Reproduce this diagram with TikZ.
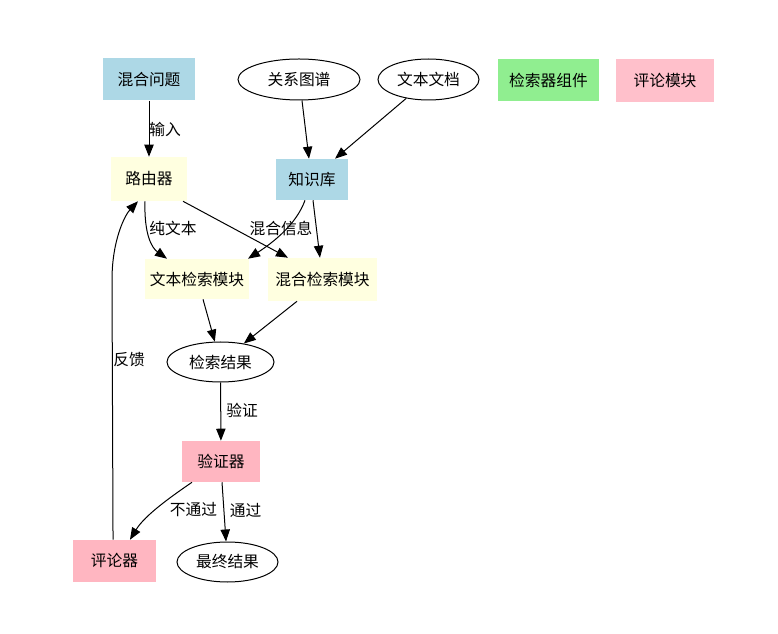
\documentclass[tikz,border=0pt]{standalone}
\usepackage{fontspec}
\newfontfamily\cjk{Noto Sans CJK SC}
\usetikzlibrary{arrows.meta,shapes.geometric}
\definecolor{lblue}{RGB}{173,216,230}
\definecolor{lyellow}{RGB}{255,255,224}
\definecolor{lgreen}{RGB}{144,238,144}
\definecolor{lpink}{RGB}{255,182,193}
\definecolor{pinkc}{RGB}{255,192,203}
\begin{document}
\begin{tikzpicture}[x=0.75pt,y=-0.75pt,
  font=\cjk\fontsize{11.8pt}{14pt}\selectfont,
  box/.style={rectangle, inner sep=0pt},
  oval/.style={ellipse, draw, line width=0.75pt, fill=white, inner sep=0pt},
  arr/.style={draw, line width=0.75pt, -{Triangle[length=9pt,width=7pt]}},
  lbl/.style={inner sep=0pt}]
\useasboundingbox[fill=white] (0,0) rectangle (778,634);

% nodes
\node[box, fill=lblue, minimum width=69pt, minimum height=31.5pt] (q) at (149,79.5) {混合问题};
\node[oval, minimum width=91.5pt, minimum height=30.75pt] (kg) at (299,79.5) {关系图谱};
\node[oval, minimum width=75.75pt, minimum height=30.75pt] (doc) at (428.5,79.5) {文本文档};
\node[box, fill=lgreen, minimum width=75.75pt, minimum height=31.5pt] (leg1) at (548.5,80) {检索器组件};
\node[box, fill=pinkc, minimum width=73.5pt, minimum height=32.25pt] (leg2) at (665,80.5) {评论模块};

\node[box, fill=lyellow, minimum width=57pt, minimum height=33pt] (router) at (149,179) {路由器};
\node[box, fill=lblue, minimum width=54pt, minimum height=30.75pt] (kb) at (312,179.5) {知识库};

\node[box, fill=lyellow, minimum width=78pt, minimum height=30pt] (tm) at (197,279) {文本检索模块};
\node[box, fill=lyellow, minimum width=81.75pt, minimum height=32.25pt] (hm) at (322.5,279.5) {混合检索模块};

\node[oval, minimum width=80.25pt, minimum height=30pt] (res) at (220.5,362) {检索结果};
\node[box, fill=lpink, minimum width=58.5pt, minimum height=30.75pt] (ver) at (221,461.5) {验证器};
\node[box, fill=lpink, minimum width=62.25pt, minimum height=31.5pt] (crit) at (114.5,561) {评论器};
\node[oval, minimum width=75.75pt, minimum height=30pt] (fin) at (227.5,562) {最终结果};

% edges
\draw[arr] (q) -- (router);
\draw[arr] ([xshift=2.25pt]kg.south) -- ([xshift=-2.25pt]kb.north);
\draw[arr] (doc) -- ([xshift=17.25pt]kb.north);
\draw[arr] ([xshift=-3pt]router.south) .. controls (144,235) and (152,248) .. ([xshift=-22.5pt]tm.north);
\draw[arr] ([xshift=25.5pt]router.south) -- ([xshift=-25.9pt]hm.north);
\draw[arr] ([xshift=-5.25pt]kb.south) .. controls (298,220) and (280,238) .. ([xshift=38.25pt]tm.north);
\draw[arr] ([xshift=0.75pt]kb.south) -- ([xshift=-1.9pt]hm.north);
\draw[arr] ([xshift=4.5pt]tm.south) -- (res);
\draw[arr] ([xshift=-19.1pt]hm.south) -- (res);
\draw[arr] (res) -- (ver);
\draw[arr] ([xshift=-21.75pt]ver.south) .. controls (172,496) and (145,515) .. ([xshift=11.6pt]crit.north);
\draw[arr] ([xshift=0.75pt]ver.south) -- ([xshift=-1.1pt]fin.north);
\draw[arr] ([xshift=-1.1pt]crit.north) -- (112,280) .. controls (112,240) and (125,215) .. ([xshift=-8.25pt]router.south);

% labels
\node[lbl] (l1) at (165,129) {输入};
\node[lbl] (l2) at (173,228) {纯文本};
\node[lbl] (l3) at (281,228) {混合信息};
\node[lbl] (l4) at (129,360) {反馈};
\node[lbl] (l5) at (242,410) {验证};
\node[lbl] (l6) at (193.5,510) {不通过};
\node[lbl] (l7) at (245.5,510) {通过};
\end{tikzpicture}
\end{document}
